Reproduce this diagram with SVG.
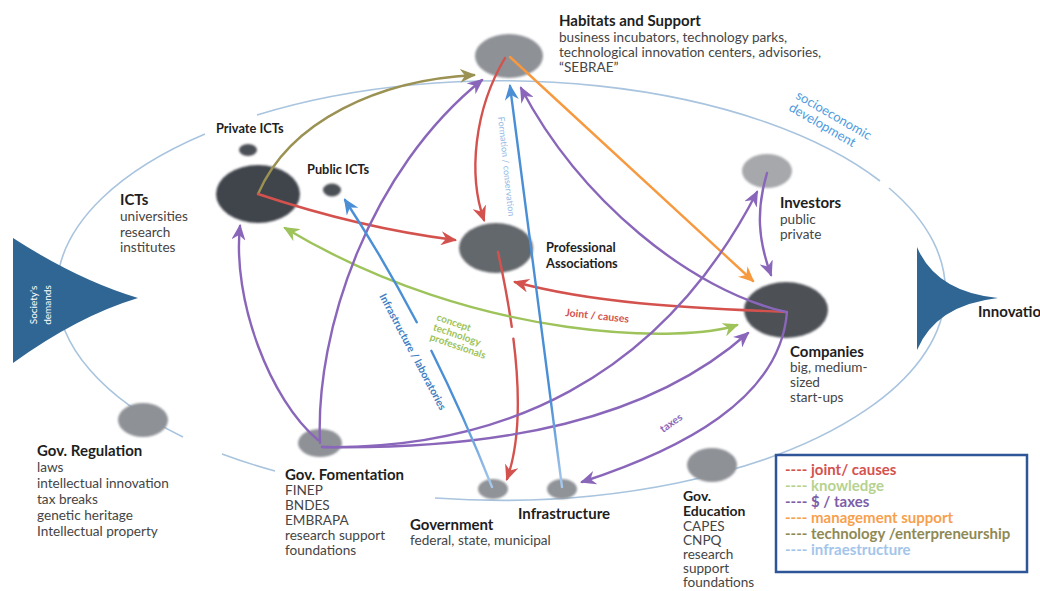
<svg xmlns="http://www.w3.org/2000/svg" width="1040" height="591" viewBox="0 0 1040 591">
<style>
text{font-family:Lato,"Liberation Sans",sans-serif}
.t{font-size:15px;font-weight:bold;fill:#1e1e1e}
.ts{font-size:12.8px;font-weight:bold;fill:#1e1e1e}
.d{font-size:13.6px;fill:#454545}
.c{fill:none;stroke-width:2.4;stroke-linecap:round}
.red{stroke:#d4524e}.grn{stroke:#9dc35a}.pur{stroke:#8a66ba}.org{stroke:#f7993f}.olv{stroke:#9a9152}
.lg{font-size:15px;font-weight:bold}
</style>
<defs>
<filter id="soft" x="-20%" y="-20%" width="140%" height="140%"><feGaussianBlur stdDeviation="0.9"/></filter>
<linearGradient id="gb1" gradientUnits="userSpaceOnUse" x1="492" y1="487" x2="462" y2="410"><stop offset="0" stop-color="#a8c9ec"/><stop offset="1" stop-color="#4a8fd6"/></linearGradient>
<linearGradient id="gb2" gradientUnits="userSpaceOnUse" x1="562" y1="487" x2="551" y2="400"><stop offset="0" stop-color="#a8c9ec"/><stop offset="1" stop-color="#4a8fd6"/></linearGradient>
<marker id="mr" markerUnits="userSpaceOnUse" markerWidth="16" markerHeight="14" viewBox="0 0 16 14" refX="14" refY="7" orient="auto-start-reverse"><path d="M0,0 L16,7 L0,14 L5,7 z" fill="#d4524e"/></marker>
<marker id="mg" markerUnits="userSpaceOnUse" markerWidth="16" markerHeight="14" viewBox="0 0 16 14" refX="14" refY="7" orient="auto-start-reverse"><path d="M0,0 L16,7 L0,14 L5,7 z" fill="#9dc35a"/></marker>
<marker id="mp" markerUnits="userSpaceOnUse" markerWidth="16" markerHeight="14" viewBox="0 0 16 14" refX="14" refY="7" orient="auto-start-reverse"><path d="M0,0 L16,7 L0,14 L5,7 z" fill="#8a66ba"/></marker>
<marker id="mo" markerUnits="userSpaceOnUse" markerWidth="16" markerHeight="14" viewBox="0 0 16 14" refX="14" refY="7" orient="auto-start-reverse"><path d="M0,0 L16,7 L0,14 L5,7 z" fill="#f7993f"/></marker>
<marker id="ml" markerUnits="userSpaceOnUse" markerWidth="16" markerHeight="14" viewBox="0 0 16 14" refX="14" refY="7" orient="auto-start-reverse"><path d="M0,0 L16,7 L0,14 L5,7 z" fill="#9a9152"/></marker>
<marker id="mb" markerUnits="userSpaceOnUse" markerWidth="16" markerHeight="14" viewBox="0 0 16 14" refX="14" refY="7" orient="auto-start-reverse"><path d="M0,0 L16,7 L0,14 L5,7 z" fill="#4a8fd6"/></marker>
</defs>
<rect width="1040" height="591" fill="#fff"/>
<!-- system boundary -->
<path id="system-boundary" d="M257,115 A445,210 0 0 1 880,181 M889,188 A445,210 0 0 1 435,498 M275,471 A445,210 0 0 1 222,454 M183,437 A445,210 0 0 1 205,134" fill="none" stroke="#a9c4de" stroke-width="1.6"/>
<text transform="translate(795,98) rotate(30)" font-size="13" fill="#4d9be0"><tspan x="0" y="0">socioeconomic</tspan><tspan x="0" y="14">development</tspan></text>
<!-- triangles -->
<g id="societys-demands">
<path d="M13,238 Q78,280 138,298 Q78,316 13,363 Z" fill="#2f6694"/>
<text transform="translate(37,305) rotate(-90)" font-size="10" fill="#fff" text-anchor="middle"><tspan x="0" y="0">Society's</tspan><tspan x="0" y="14">demands</tspan></text>
</g>
<g id="innovation">
<path d="M917,247 Q936,292 998,298 Q936,305 917,350 Z" fill="#2f6694"/>
<text x="978" y="317" font-size="15" font-weight="bold" fill="#1e1e1e">Innovatio</text>
</g>
<!-- nodes -->
<g id="habitats">
<ellipse cx="509" cy="56" rx="34" ry="22" fill="#8e9196" filter="url(#soft)"/>
<text x="559" y="26" class="t" font-size="16">Habitats and Support</text>
<text class="d"><tspan x="559" y="42">business incubators, technology parks,</tspan><tspan x="559" y="57">technological innovation centers, advisories,</tspan><tspan x="559" y="72">“SEBRAE”</tspan></text>
</g>
<g id="private-icts">
<ellipse cx="248" cy="150" rx="9" ry="6" fill="#4b4f56" filter="url(#soft)"/>
<text x="216" y="133" class="ts">Private ICTs</text>
</g>
<g id="public-icts">
<ellipse cx="332" cy="190" rx="9" ry="6.5" fill="#4b4f56" filter="url(#soft)"/>
<text x="307" y="174" class="ts" font-size="12.5">Public ICTs</text>
</g>
<g id="icts">
<ellipse cx="258" cy="194" rx="42" ry="29" fill="#41454c" filter="url(#soft)"/>
<text x="120" y="205" class="t">ICTs</text>
<text class="d"><tspan x="120" y="221">universities</tspan><tspan x="120" y="237">research</tspan><tspan x="120" y="252">institutes</tspan></text>
</g>
<g id="professional-associations">
<ellipse cx="496" cy="248" rx="37" ry="25" fill="#64676c" filter="url(#soft)"/>
<text class="ts" font-size="13.2"><tspan x="546" y="252">Professional</tspan><tspan x="546" y="268">Associations</tspan></text>
</g>
<g id="investors">
<ellipse cx="767" cy="171" rx="25" ry="17" fill="#a6a8ab" filter="url(#soft)"/>
<text x="780" y="208" class="t">Investors</text>
<text class="d" font-size="13.5"><tspan x="780" y="224">public</tspan><tspan x="780" y="239">private</tspan></text>
</g>
<g id="companies">
<ellipse cx="786" cy="310" rx="42" ry="28" fill="#4d5157" filter="url(#soft)"/>
<text x="790" y="357" class="t">Companies</text>
<text class="d"><tspan x="790" y="372">big, medium-</tspan><tspan x="790" y="387">sized</tspan><tspan x="790" y="402">start-ups</tspan></text>
</g>
<g id="gov-regulation">
<ellipse cx="143" cy="420" rx="25" ry="17" fill="#8e9196" filter="url(#soft)"/>
<text x="37" y="456" class="t">Gov. Regulation</text>
<text class="d" font-size="14.8"><tspan x="37" y="472">laws</tspan><tspan x="37" y="488">intellectual innovation</tspan><tspan x="37" y="504">tax breaks</tspan><tspan x="37" y="520">genetic heritage</tspan><tspan x="37" y="536">Intellectual property</tspan></text>
</g>
<g id="gov-fomentation">
<ellipse cx="320" cy="443" rx="22" ry="14" fill="#8e9196" filter="url(#soft)"/>
<text x="285" y="480" class="t">Gov. Fomentation</text>
<text class="d" font-size="13.5"><tspan x="285" y="495">FINEP</tspan><tspan x="285" y="510">BNDES</tspan><tspan x="285" y="525">EMBRAPA</tspan><tspan x="285" y="540">research support</tspan><tspan x="285" y="555">foundations</tspan></text>
</g>
<g id="government">
<ellipse cx="493" cy="489" rx="15" ry="10" fill="#909398" filter="url(#soft)"/>
<text x="410" y="530" class="t">Government</text>
<text x="410" y="545" class="d" font-size="13.8">federal, state, municipal</text>
</g>
<g id="infrastructure">
<ellipse cx="562" cy="489" rx="15" ry="10" fill="#909398" filter="url(#soft)"/>
<text x="518" y="519" class="t" font-size="14.6">Infrastructure</text>
</g>
<g id="gov-education">
<ellipse cx="712" cy="465" rx="25" ry="17" fill="#8e9196" filter="url(#soft)"/>
<text class="d" font-size="12.8"><tspan x="683" y="501" font-size="14" font-weight="bold" fill="#1e1e1e">Gov.</tspan><tspan x="683" y="516" font-size="14" font-weight="bold" fill="#1e1e1e">Education</tspan><tspan x="683" y="531">CAPES</tspan><tspan x="683" y="545">CNPQ</tspan><tspan x="683" y="559">research</tspan><tspan x="683" y="573">support</tspan><tspan x="683" y="587">foundations</tspan></text>
</g>
<!-- connectors -->
<g id="connectors">
<path class="c olv" d="M258,194 C290,120 380,80 474,75" marker-end="url(#ml)"/>
<path class="c org" d="M510,57 L753,281" marker-end="url(#mo)"/>
<path class="c red" d="M258,194 Q360,228 455,240" marker-end="url(#mr)"/>
<path class="c red" d="M505,58 C474,110 468,175 484,220" marker-end="url(#mr)"/>
<path class="c red" d="M498,252 C515,330 528,420 507,479" stroke-dasharray="76 12 1000" marker-end="url(#mr)"/>
<path class="c red" d="M786,312 C700,308 600,305 515,282" marker-end="url(#mr)"/>
<path class="c grn" d="M285,228 C480,345 690,342 737,325" marker-start="url(#mg)" marker-end="url(#mg)"/>
<path class="c pur" d="M318,440 C270,400 232,300 240,226" marker-end="url(#mp)"/>
<path class="c pur" d="M320,443 C315,330 370,170 482,80" marker-end="url(#mp)"/>
<path class="c pur" d="M322,447 C500,450 660,380 757,192" marker-end="url(#mp)"/>
<path class="c pur" d="M322,447 C500,450 650,420 748,333" marker-end="url(#mp)"/>
<path class="c pur" d="M786,312 C690,290 580,200 521,88" marker-end="url(#mp)"/>
<path class="c pur" d="M767,173 C756,210 758,240 771,275" marker-end="url(#mp)"/>
<path class="c pur" d="M787,312 C780,400 680,450 582,482" marker-end="url(#mp)"/>
<path class="c" stroke="url(#gb1)" d="M492,487 Q430,330 345,200" stroke-dasharray="149 32 1000" marker-end="url(#mb)"/>
<path class="c" stroke="url(#gb2)" d="M562,487 L510,86" marker-end="url(#mb)"/>
<text transform="translate(498,117) rotate(84)" font-size="9" fill="#8fb8e6">Formation / conservation</text>
<text transform="translate(379,296) rotate(62)" font-size="10.5" fill="#3f7fc4" font-weight="bold">Infrastructure / laboratories</text>
<text transform="translate(436,320) rotate(19)" font-size="10" fill="#9dc35a" font-weight="bold"><tspan x="0" y="0">concept</tspan><tspan x="0" y="10.5">technology</tspan><tspan x="0" y="21">professionals</tspan></text>
<text transform="translate(565,316) rotate(6)" font-size="10.5" fill="#d4524e" font-weight="bold">Joint / causes</text>
<text transform="translate(663,433) rotate(-35)" font-size="10.5" fill="#8a66ba" font-weight="bold">taxes</text>
</g>
<!-- legend -->
<g id="legend">
<rect x="776" y="455" width="251" height="117" fill="#fff" stroke="#2d5597" stroke-width="2.5"/>
<text x="785" y="475" class="lg" fill="#d4524e">---- joint/ causes</text>
<text x="785" y="491" class="lg" fill="#b6d28f">---- knowledge</text>
<text x="785" y="507" class="lg" fill="#7c5ea8">---- $ / taxes</text>
<text x="785" y="523" class="lg" fill="#f7a04d">---- management support</text>
<text x="785" y="539" class="lg" fill="#8f8955">---- technology /enterpreneurship</text>
<text x="785" y="555" class="lg" fill="#a3c5ea">---- infraestructure</text>
</g>
</svg>
